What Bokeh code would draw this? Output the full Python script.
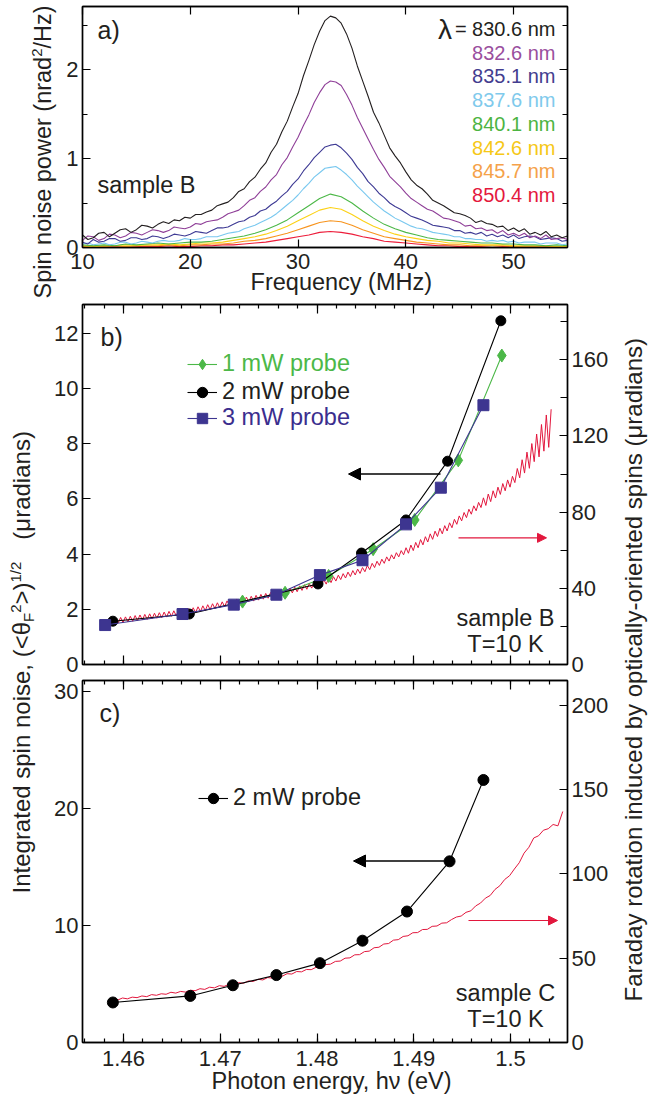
import numpy as np
from bokeh.plotting import figure
from bokeh.models import (Range1d, LinearAxis, FixedTicker, Label, Arrow,
                          NormalHead, Legend, LegendItem, CustomJSTickFormatter,
                          CustomLabelingPolicy)
from bokeh.layouts import column, row
from bokeh.embed import file_html
from bokeh.resources import INLINE

FONT = "Liberation Sans"
INK = "#231f20"

# ---------------- panel a data (spin-noise spectra, sample B) ----------------
freq_fine = [10 + 0.5 * i for i in range(91)]     # 0.5 MHz sampling
freq_MHz = list(range(10, 56))                     # 1 MHz sampling
wavelength_labels = ["830.6 nm", "832.6 nm", "835.1 nm", "837.6 nm",
                     "840.1 nm", "842.6 nm", "845.7 nm", "850.4 nm"]
spec_830_6 = [0.14, 0.09, 0.11, 0.16, 0.17, 0.12, 0.16, 0.20, 0.21, 0.17,
              0.20, 0.25, 0.24, 0.22, 0.26, 0.29, 0.27, 0.31, 0.30, 0.34,
              0.33, 0.37, 0.37, 0.40, 0.42, 0.47, 0.49, 0.51, 0.56, 0.63,
              0.66, 0.74, 0.79, 0.88, 0.95, 1.07, 1.16, 1.30, 1.42, 1.58,
              1.73, 1.93, 2.10, 2.28, 2.43, 2.55, 2.60, 2.58, 2.52, 2.40,
              2.24, 2.04, 1.87, 1.70, 1.52, 1.40, 1.26, 1.12, 1.03, 0.95,
              0.85, 0.76, 0.70, 0.66, 0.60, 0.53, 0.50, 0.47, 0.43, 0.39,
              0.38, 0.36, 0.33, 0.28, 0.30, 0.27, 0.26, 0.23, 0.24, 0.19,
              0.22, 0.18, 0.21, 0.15, 0.17, 0.14, 0.18, 0.12, 0.14, 0.11,
              0.13]
spec_832_6 = [0.08, 0.13, 0.12, 0.08, 0.10, 0.15, 0.14, 0.11, 0.13, 0.17,
              0.16, 0.14, 0.17, 0.20, 0.19, 0.17, 0.19, 0.23, 0.22, 0.21,
              0.23, 0.27, 0.26, 0.29, 0.30, 0.31, 0.34, 0.38, 0.40, 0.42,
              0.47, 0.53, 0.56, 0.63, 0.68, 0.76, 0.82, 0.93, 1.01, 1.13,
              1.24, 1.37, 1.49, 1.63, 1.74, 1.83, 1.87, 1.86, 1.82, 1.72,
              1.60, 1.46, 1.34, 1.22, 1.10, 0.99, 0.90, 0.80, 0.74, 0.68,
              0.61, 0.55, 0.51, 0.47, 0.43, 0.41, 0.37, 0.33, 0.32, 0.30,
              0.28, 0.24, 0.25, 0.21, 0.22, 0.19, 0.20, 0.16, 0.19, 0.14,
              0.16, 0.13, 0.16, 0.11, 0.13, 0.10, 0.14, 0.09, 0.10, 0.11,
              0.09]
spec_835_1 = [0.06, 0.04, 0.09, 0.06, 0.07, 0.10, 0.10, 0.07, 0.08, 0.11,
              0.11, 0.09, 0.10, 0.13, 0.12, 0.10, 0.12, 0.15, 0.14, 0.13,
              0.15, 0.18, 0.17, 0.16, 0.19, 0.22, 0.22, 0.23, 0.26, 0.29,
              0.30, 0.34, 0.36, 0.41, 0.43, 0.48, 0.52, 0.58, 0.63, 0.71,
              0.77, 0.86, 0.93, 1.01, 1.07, 1.13, 1.15, 1.16, 1.12, 1.06,
              0.99, 0.90, 0.83, 0.74, 0.68, 0.61, 0.56, 0.50, 0.46, 0.43,
              0.39, 0.35, 0.33, 0.31, 0.28, 0.25, 0.24, 0.23, 0.22, 0.19,
              0.19, 0.16, 0.17, 0.15, 0.17, 0.13, 0.15, 0.12, 0.14, 0.11,
              0.14, 0.10, 0.12, 0.13, 0.12, 0.09, 0.10, 0.11, 0.10, 0.07,
              0.08]
spec_837_6 = [0.04, 0.05, 0.03, 0.04, 0.05, 0.03, 0.04, 0.06, 0.06, 0.04,
              0.05, 0.07, 0.06, 0.05, 0.07, 0.08, 0.07, 0.07, 0.08, 0.10,
              0.09, 0.09, 0.10, 0.12, 0.12, 0.12, 0.14, 0.16, 0.17, 0.18,
              0.21, 0.23, 0.25, 0.28, 0.31, 0.34, 0.38, 0.43, 0.48, 0.53,
              0.59, 0.66, 0.72, 0.79, 0.84, 0.89, 0.90, 0.91, 0.87, 0.82,
              0.76, 0.69, 0.63, 0.57, 0.51, 0.46, 0.41, 0.37, 0.33, 0.30,
              0.27, 0.24, 0.22, 0.21, 0.19, 0.17, 0.16, 0.15, 0.14, 0.12,
              0.12, 0.10, 0.10, 0.09, 0.09, 0.07, 0.08, 0.07, 0.08, 0.06,
              0.07, 0.05, 0.06, 0.06, 0.06, 0.04, 0.05, 0.05, 0.05, 0.03,
              0.04]
spec_840_1 = [0.03, 0.02, 0.03, 0.02, 0.04, 0.03, 0.04, 0.05, 0.04, 0.05,
              0.06, 0.06, 0.07, 0.09, 0.11, 0.13, 0.16, 0.20, 0.25, 0.31,
              0.39, 0.47, 0.55, 0.60, 0.57, 0.50, 0.41, 0.33, 0.26, 0.21,
              0.17, 0.14, 0.11, 0.09, 0.08, 0.07, 0.06, 0.05, 0.05, 0.04,
              0.04, 0.03, 0.03, 0.02, 0.03, 0.02]
spec_842_6 = [0.02, 0.01, 0.02, 0.02, 0.03, 0.02, 0.03, 0.03, 0.04, 0.03,
              0.04, 0.05, 0.05, 0.06, 0.08, 0.10, 0.12, 0.15, 0.19, 0.24,
              0.30, 0.36, 0.42, 0.45, 0.43, 0.37, 0.30, 0.24, 0.19, 0.15,
              0.12, 0.10, 0.08, 0.07, 0.05, 0.05, 0.04, 0.03, 0.03, 0.03,
              0.02, 0.02, 0.02, 0.02, 0.01, 0.01]
spec_845_7 = [0.01, 0.02, 0.01, 0.02, 0.01, 0.02, 0.02, 0.02, 0.03, 0.02,
              0.03, 0.03, 0.04, 0.04, 0.05, 0.07, 0.08, 0.10, 0.13, 0.16,
              0.20, 0.24, 0.28, 0.30, 0.29, 0.25, 0.20, 0.16, 0.12, 0.10,
              0.08, 0.06, 0.05, 0.04, 0.03, 0.03, 0.02, 0.02, 0.02, 0.02,
              0.01, 0.01, 0.01, 0.01, 0.01, 0.01]
spec_850_4 = [0.01, 0.00, 0.01, 0.01, 0.00, 0.01, 0.01, 0.01, 0.02, 0.01,
              0.01, 0.02, 0.02, 0.03, 0.03, 0.04, 0.05, 0.06, 0.08, 0.10,
              0.12, 0.14, 0.17, 0.18, 0.17, 0.15, 0.12, 0.10, 0.07, 0.06,
              0.05, 0.04, 0.03, 0.02, 0.02, 0.01, 0.01, 0.01, 0.00, 0.01,
              0.01, 0.00, 0.01, 0.00, 0.01, 0.00]
spectra = [(freq_fine, spec_830_6), (freq_fine, spec_832_6), (freq_fine, spec_835_1),
           (freq_fine, spec_837_6), (freq_MHz, spec_840_1), (freq_MHz, spec_842_6),
           (freq_MHz, spec_845_7), (freq_MHz, spec_850_4)]
spec_colors = ["#231f20", "#8f3f98", "#3e3a94", "#79c8ef",
               "#4db848", "#fcd116", "#f7941e", "#ed1c3a"]
spec_text_colors = ["#231f20", "#9a4f9e", "#433d8f", "#7fcaec",
                    "#4cb442", "#f6c817", "#f5a24a", "#e4183d"]

# ---------------- panel b data (sample B) ----------------
E_1mW = [1.4723, 1.4767, 1.4812, 1.4858, 1.4901, 1.4946, 1.4991]
SN_1mW = [2.28, 2.60, 3.21, 4.18, 5.24, 7.40, 11.20]
E_2mW_b = [1.4589, 1.4668, 1.4801, 1.4846, 1.4892, 1.4935, 1.4990]
SN_2mW_b = [1.57, 1.83, 2.92, 4.04, 5.24, 7.37, 12.46]
E_3mW = [1.4581, 1.4661, 1.4714, 1.4758, 1.4803, 1.4847, 1.4892, 1.4928, 1.4972]
SN_3mW = [1.43, 1.83, 2.17, 2.53, 3.24, 3.78, 5.08, 6.41, 9.40]
FR_b_start, FR_b_step = 1.4592, 0.00025
FR_b = [24.4, 21.8, 24.7, 22.1, 25.0, 22.4, 25.3, 22.7, 25.7, 23.1,
        26.0, 23.4, 26.3, 23.7, 26.6, 24.0, 26.9, 24.3, 27.2, 24.6,
        27.5, 24.9, 27.9, 25.3, 28.2, 25.6, 28.5, 25.9, 28.8, 26.3,
        29.3, 26.8, 29.8, 27.3, 30.3, 27.8, 30.8, 28.3, 31.4, 28.9,
        31.9, 29.4, 32.4, 29.9, 32.9, 30.4, 33.4, 30.9, 33.9, 31.4,
        34.4, 31.9, 34.9, 32.4, 35.4, 32.9, 35.8, 33.3, 36.3, 33.8,
        36.8, 34.3, 37.3, 34.8, 37.8, 35.3, 38.2, 35.8, 38.8, 36.4,
        39.4, 37.0, 40.0, 37.6, 40.6, 38.2, 41.3, 38.9, 41.9, 39.5,
        42.5, 40.1, 43.1, 40.7, 43.7, 41.4, 44.5, 42.2, 45.3, 43.0,
        46.1, 43.8, 46.9, 44.6, 47.7, 45.4, 48.5, 46.2, 49.3, 47.0,
        50.1, 47.8, 50.9, 48.7, 52.0, 49.8, 53.1, 50.9, 54.2, 52.0,
        55.3, 53.1, 56.5, 54.3, 57.6, 55.4, 58.7, 56.5, 59.8, 57.6,
        61.3, 58.4, 62.7, 59.8, 64.1, 61.3, 65.6, 62.8, 67.1, 64.3,
        68.6, 65.7, 70.0, 67.2, 71.5, 68.6, 72.9, 70.1, 74.4, 71.8,
        76.2, 73.6, 78.0, 75.4, 79.8, 77.1, 81.5, 78.9, 83.3, 80.7,
        85.1, 82.4, 87.5, 83.5, 89.5, 85.5, 91.2, 87.4, 93.1, 89.3,
        95.0, 91.2, 96.9, 93.1, 98.8, 95.5, 102.9, 98.0, 107.5, 100.5,
        111.5, 103.0, 116.0, 106.5, 121.0, 109.0, 126.0, 112.0, 131.0, 114.0,
        134.0]
E_FR_b = [round(FR_b_start + FR_b_step * i, 6) for i in range(len(FR_b))]

# ---------------- panel c data (sample C) ----------------
E_2mW_c = [1.4589, 1.4669, 1.4713, 1.4758, 1.4803, 1.4847, 1.4893, 1.4937, 1.4972]
SN_2mW_c = [3.42, 3.98, 4.89, 5.76, 6.78, 8.70, 11.19, 15.48, 22.43]
FR_c_start, FR_c_step = 1.4589, 0.0005
FR_c = [25.6, 25.2, 26.4, 25.9, 26.9, 26.6, 27.6, 27.2, 28.4, 28.0,
        28.9, 28.6, 29.8, 29.3, 30.3, 29.9, 31.0, 30.7, 31.9, 31.5,
        32.8, 32.4, 33.7, 33.3, 34.5, 34.2, 35.5, 35.1, 36.5, 36.2,
        37.5, 37.1, 38.5, 38.2, 39.5, 39.3, 40.8, 40.6, 42.1, 41.9,
        43.3, 43.2, 44.6, 44.5, 46.2, 46.5, 48.1, 48.3, 50.0, 50.2,
        52.0, 52.1, 53.9, 54.2, 56.2, 56.5, 58.4, 58.7, 60.7, 61.0,
        62.9, 63.3, 65.1, 65.2, 67.0, 67.1, 68.9, 69.1, 70.8, 71.0,
        72.9, 74.4, 75.0, 77.2, 78.1, 81.0, 82.7, 85.6, 87.2, 90.8,
        93.0, 96.7, 98.9, 102.9, 106.6, 112.3, 115.8, 121.3, 122.6, 125.9,
        126.8, 129.3, 128.5, 137.0]
E_FR_c = [round(FR_c_start + FR_c_step * i, 5) for i in range(len(FR_c))]

# tick sets
freq_ticks = [10, 20, 30, 40, 50]
E_ticks = [1.46, 1.47, 1.48, 1.49, 1.50]
E_minor = [round(1.456 + 0.002 * i, 3) for i in range(26)]

GREEN = "#4cb848"
NAVY = "#3d3590"
RED = "#e2173d"
NBSP = "\u00a0"

# ---------------- helpers ----------------
CW = {' ': 278, '(': 333, ')': 333, ',': 278, '-': 333, '.': 278, '/': 278,
      '<': 584, '=': 584, '>': 584, 'B': 667, 'C': 722, 'F': 611, 'H': 722,
      'I': 278, 'K': 667, 'M': 833, 'P': 667, 'S': 667, 'T': 611, 'V': 667, 'W': 944,
      'a': 556, 'b': 556, 'c': 500, 'd': 556, 'e': 556, 'f': 278, 'g': 556,
      'h': 556, 'i': 222, 'l': 222, 'm': 833, 'n': 556, 'o': 556, 'p': 556,
      'q': 556, 'r': 333, 's': 500, 't': 278, 'u': 556, 'v': 500, 'w': 722,
      'y': 500, 'z': 500, 'θ': 556, 'μ': 576, 'ν': 500, 'λ': 500}


def tw(s, size):
    return sum(CW.get(ch, 556) for ch in s) * size / 1000.0


class Geo:
    """maps page pixels to a panel's data coordinates (for annotations)"""
    def __init__(self, x0, x1, y0, y1, L, R, T, B):
        self.x0, self.x1, self.y0, self.y1 = x0, x1, y0, y1
        self.L, self.R, self.T, self.B = L, R, T, B

    def x(self, X):
        return self.x0 + (X - self.L) * (self.x1 - self.x0) / (self.R - self.L)

    def y(self, Y):
        return self.y0 + (self.B - Y) * (self.y1 - self.y0) / (self.B - self.T)


def htext(fig, g, X, Y, text, size, color=INK, align="left"):
    fig.add_layout(Label(x=g.x(X), y=g.y(Y), text=text, text_font=FONT,
                         text_font_size=f"{size}px", text_color=color,
                         text_align=align, text_baseline="middle"))


def vtext(fig, g, Xmid, Ystart, pieces, color=INK):
    """rotated (bottom-to-top) text made of pieces: (text, size, x-shift, extra gap)"""
    Y = Ystart
    for s, size, shift, gap in pieces:
        fig.add_layout(Label(x=g.x(Xmid + shift), y=g.y(Y), text=s, angle=np.pi / 2,
                             text_font=FONT, text_font_size=f"{size}px", text_color=color,
                             text_align="left", text_baseline="middle"))
        Y -= tw(s, size) + gap


HIDE = CustomLabelingPolicy(code="for (const i of indices) { indices.unset(i) }")


def make_panel(width, height, bl, br, bt, bb, xr, yr):
    p = figure(width=width, height=height, x_range=xr, y_range=yr,
               min_border_left=bl, min_border_right=br, min_border_top=bt,
               min_border_bottom=bb, output_backend="svg", toolbar_location=None,
               title=None)
    p.xgrid.visible = False
    p.ygrid.visible = False
    p.outline_line_color = "black"
    p.outline_line_width = 1.4
    p.background_fill_color = "white"
    p.border_fill_color = "white"
    return p


def style_axis(ax, ticker, labels=True, major_in=8, minor_in=4, standoff=4):
    ax.ticker = ticker
    ax.major_tick_in = major_in
    ax.major_tick_out = 0
    ax.minor_tick_in = minor_in
    ax.minor_tick_out = 0
    ax.axis_line_color = "black"
    ax.axis_line_width = 1.4
    ax.major_tick_line_color = "black"
    ax.major_tick_line_width = 1.2
    ax.minor_tick_line_color = "black"
    ax.minor_tick_line_width = 1.2
    ax.major_label_text_font = FONT
    ax.major_label_text_color = INK
    ax.axis_label_text_font = FONT
    ax.axis_label_text_font_style = "normal"
    ax.axis_label_text_font_size = "23.5px"
    ax.axis_label_text_color = INK
    if labels:
        ax.major_label_text_font_size = "22px"
        ax.major_label_standoff = standoff
    else:
        ax.major_label_text_font_size = "1px"
        ax.major_label_standoff = 0
        ax.major_label_policy = HIDE


def blank_strip(width, height):
    s = figure(width=width, height=height, x_range=Range1d(0, width),
               y_range=Range1d(0, height), min_border=0, x_axis_type=None,
               y_axis_type=None, output_backend="svg", toolbar_location=None,
               title=None)
    s.outline_line_color = None
    s.background_fill_color = "white"
    s.border_fill_color = "white"
    return s


E_fmt = CustomJSTickFormatter(code="var s = tick.toFixed(2); return s.replace(/0$/, '');")

# ================= panel a =================
XA = (10, 55)
YA = (0, 2.708)
ga = Geo(XA[0], XA[1], YA[0], YA[1], 82, 567, 6, 247)
pa = make_panel(611, 300, 24, 102, 6, 53, Range1d(*XA), Range1d(*YA))
style_axis(pa.xaxis[0], FixedTicker(ticks=freq_ticks, minor_ticks=[]), standoff=6)
pa.xaxis[0].axis_label = NBSP * 5 + "Frequency (MHz)"
pa.xaxis[0].axis_label_standoff = -3
style_axis(pa.yaxis[0], FixedTicker(ticks=[0, 1, 2], minor_ticks=[0.5, 1.5, 2.5]), minor_in=5)
ax = LinearAxis()
style_axis(ax, FixedTicker(ticks=freq_ticks, minor_ticks=[]), labels=False)
pa.add_layout(ax, "above")
ax = LinearAxis()
style_axis(ax, FixedTicker(ticks=[0, 1, 2], minor_ticks=[0.5, 1.5, 2.5]), labels=False, minor_in=5)
pa.add_layout(ax, "right")

for (fx, spec), col in zip(reversed(spectra), reversed(spec_colors)):
    pa.line(fx, spec, line_color=col, line_width=1.1)

htext(pa, ga, 97, 29, "a)", 25)
htext(pa, ga, 97, 184, "sample B", 23.5)
leg_y = [28, 52, 75, 99, 123, 147, 170, 194]
for i, (lab, col) in enumerate(zip(wavelength_labels, spec_text_colors)):
    if i == 0:
        htext(pa, ga, 555, leg_y[i], "= " + lab, 20, col, align="right")
        htext(pa, ga, 555 - tw("= " + lab, 20) - 3, leg_y[i] + 1, "λ", 28, col, align="right")
    else:
        htext(pa, ga, 555, leg_y[i], lab, 20, col, align="right")

La = blank_strip(58, 300)
gLa = Geo(0, 58, 0, 300, 0, 58, 0, 300)
vtext(La, gLa, 42, 298, [("Spin noise power (nrad", 23.5, 0, 0), ("2", 15, -6, 0),
                         ("/Hz)", 23.5, 0, 0)])

# ================= panel b =================
XE = (1.45576, 1.50589)
YB = (0, 13.05)
YBR = (0, 189.0)
gb = Geo(XE[0], XE[1], YB[0], YB[1], 82, 567, 303, 664)
pb = make_panel(580, 376, 42, 53, 3, 12, Range1d(*XE), Range1d(*YB))
pb.extra_y_ranges = {"r": Range1d(*YBR)}
style_axis(pb.xaxis[0], FixedTicker(ticks=E_ticks, minor_ticks=E_minor), labels=False, major_in=9)
style_axis(pb.yaxis[0], FixedTicker(ticks=[0, 2, 4, 6, 8, 10, 12], minor_ticks=[]))
ax = LinearAxis()
style_axis(ax, FixedTicker(ticks=E_ticks, minor_ticks=E_minor), labels=False, major_in=9)
pb.add_layout(ax, "above")
ax = LinearAxis(y_range_name="r")
style_axis(ax, FixedTicker(ticks=[0, 40, 80, 120, 160], minor_ticks=[20, 60, 100, 140, 180]),
           minor_in=7)
pb.add_layout(ax, "right")

pb.line(E_FR_b, FR_b, y_range_name="r", line_color=RED, line_width=1)
l1 = pb.line(E_1mW, SN_1mW, line_color=GREEN, line_width=1.1)
s1 = pb.scatter(E_1mW, SN_1mW, marker="diamond", size=13, fill_color=GREEN, line_color=GREEN)
l2 = pb.line(E_2mW_b, SN_2mW_b, line_color="black", line_width=1.1)
s2 = pb.scatter(E_2mW_b, SN_2mW_b, marker="circle", size=10, fill_color="black", line_color="black")
l3 = pb.line(E_3mW, SN_3mW, line_color=NAVY, line_width=1.1)
s3 = pb.scatter(E_3mW, SN_3mW, marker="square", size=11, fill_color=NAVY, line_color=NAVY)

for lab, rends, col, vy in [("1 mW probe", [l1, s1], GREEN, 287),
                            ("2 mW probe", [l2, s2], INK, 259),
                            ("3 mW probe", [l3, s3], "#3b2e8e", 233)]:
    lg = Legend(items=[LegendItem(label=lab, renderers=rends)], location=(105, vy),
                glyph_width=30, glyph_height=26, label_height=26, label_standoff=5,
                padding=0, margin=0, spacing=0, border_line_color=None,
                background_fill_alpha=0, label_text_font=FONT,
                label_text_font_size="23.5px", label_text_color=col)
    pb.add_layout(lg)

pb.add_layout(Arrow(end=NormalHead(size=12, fill_color="black", line_color="black"),
                    x_start=gb.x(440), y_start=gb.y(473), x_end=gb.x(348), y_end=gb.y(473),
                    line_color="black", line_width=1.5))
pb.add_layout(Arrow(end=NormalHead(size=9, fill_color=RED, line_color=RED),
                    x_start=gb.x(458), y_start=gb.y(537), x_end=gb.x(546), y_end=gb.y(537),
                    line_color=RED, line_width=1.2))
htext(pb, gb, 100, 336, "b)", 25)
htext(pb, gb, 505, 617, "sample B", 23.5, align="center")
htext(pb, gb, 505, 643, "T=10 K", 23.5, align="center")

# ================= panel c =================
YC = (0, 30.93)
YCR = (0, 214.7)
gc = Geo(XE[0], XE[1], YC[0], YC[1], 82, 567, 677, 1042)
pc = make_panel(580, 423, 42, 53, 1, 57, Range1d(*XE), Range1d(*YC))
pc.extra_y_ranges = {"r": Range1d(*YCR)}
style_axis(pc.xaxis[0], FixedTicker(ticks=E_ticks, minor_ticks=E_minor), major_in=9, standoff=8)
pc.xaxis[0].formatter = E_fmt
pc.xaxis[0].axis_label = NBSP * 2 + "Photon energy, hν (eV)"
pc.xaxis[0].axis_label_standoff = -1
style_axis(pc.yaxis[0], FixedTicker(ticks=[0, 10, 20, 30], minor_ticks=[]))
ax = LinearAxis()
style_axis(ax, FixedTicker(ticks=E_ticks, minor_ticks=E_minor), labels=False, major_in=9)
pc.add_layout(ax, "above")
ax = LinearAxis(y_range_name="r")
style_axis(ax, FixedTicker(ticks=[0, 50, 100, 150, 200], minor_ticks=[]))
pc.add_layout(ax, "right")

pc.line(E_FR_c, FR_c, y_range_name="r", line_color=RED, line_width=1)
lc = pc.line(E_2mW_c, SN_2mW_c, line_color="black", line_width=1.1)
sc = pc.scatter(E_2mW_c, SN_2mW_c, marker="circle", size=11, fill_color="black", line_color="black")
lgc = Legend(items=[LegendItem(label="2 mW probe", renderers=[lc, sc])], location=(116, 231),
             glyph_width=30, glyph_height=26, label_height=26, label_standoff=5,
             padding=0, margin=0, spacing=0, border_line_color=None,
             background_fill_alpha=0, label_text_font=FONT,
             label_text_font_size="23.5px", label_text_color=INK)
pc.add_layout(lgc)

pc.add_layout(Arrow(end=NormalHead(size=12, fill_color="black", line_color="black"),
                    x_start=gc.x(444), y_start=gc.y(859), x_end=gc.x(353), y_end=gc.y(859),
                    line_color="black", line_width=1.5))
pc.add_layout(Arrow(end=NormalHead(size=9, fill_color=RED, line_color=RED),
                    x_start=gc.x(468), y_start=gc.y(919), x_end=gc.x(557), y_end=gc.y(919),
                    line_color=RED, line_width=1.2))
htext(pc, gc, 99, 710, "c)", 25)
htext(pc, gc, 505, 992, "sample C", 23.5, align="center")
htext(pc, gc, 505, 1018, "T=10 K", 23.5, align="center")

# ================= side strips with shared axis titles =================
Ls = blank_strip(40, 799)
gL = Geo(0, 40, 0, 799, 0, 40, 300, 1099)
vtext(Ls, gL, 21, 893, [("Integrated spin noise, (<θ", 24, 0, 0), ("F", 15, 7, 0),
                        ("2", 15, -6, 0), (">)", 24, 0, 0), ("1/2", 15, -6, 22),
                        ("(μradians)", 24, 0, 0)])
Rs = blank_strip(49, 799)
gR = Geo(0, 49, 0, 799, 620, 669, 300, 1099)
vtext(Rs, gR, 633, 1001, [("Faraday rotation induced by optically-oriented spins (μradians)", 24, 0, 0)])

layout = column(row(La, column(pa)), row(Ls, column(pb, pc), Rs))
open("out.html", "w").write(file_html(layout, INLINE))
